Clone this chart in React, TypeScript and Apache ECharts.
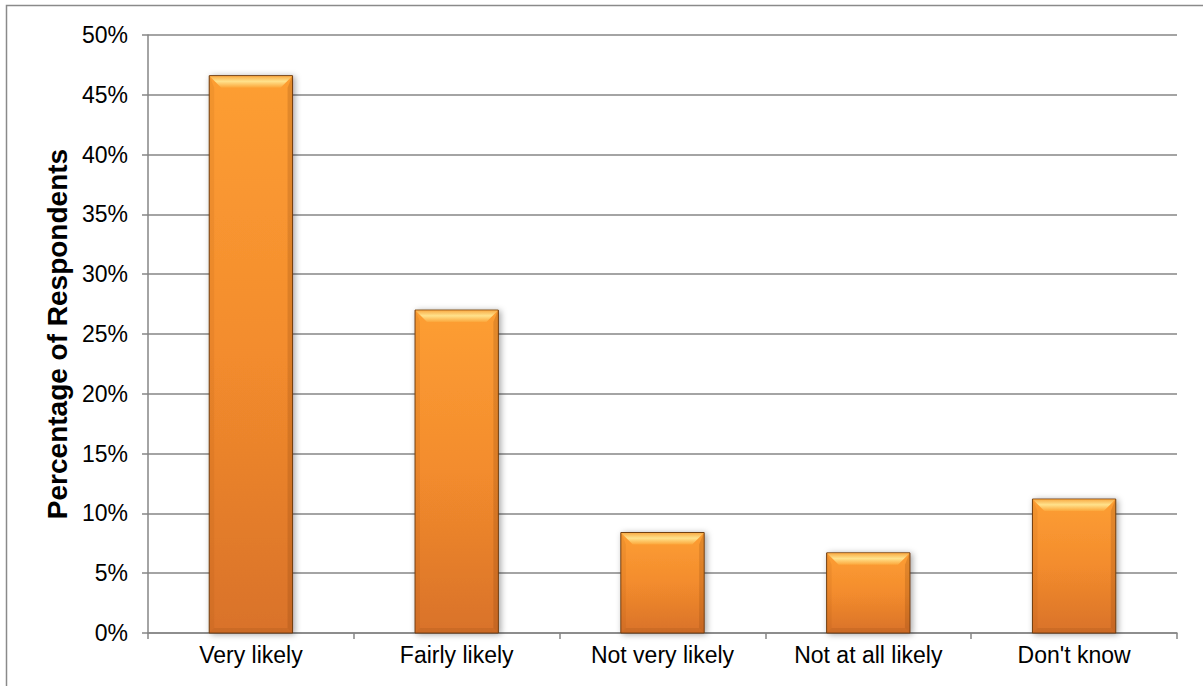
import React, { useEffect, useRef } from "react";
import * as echarts from "echarts";

const categories = ["Very likely", "Fairly likely", "Not very likely", "Not at all likely", "Don't know"];
const values = [46.6, 27.0, 8.4, 6.7, 11.2];
const yTicks = { min: 0, max: 50, interval: 5 };
const yAxisTitle = "Percentage of Respondents";

export default function App() {
  const ref = useRef<HTMLDivElement>(null);
  useEffect(() => {
    document.body.style.margin = "0";
    const chart = echarts.init(ref.current!, null, { renderer: "svg" });
    const font = "'Liberation Sans', Arial, sans-serif";
    chart.setOption({
      animation: false,
      backgroundColor: "#ffffff",
      graphic: [
        {
          type: "rect",
          shape: { x: 6.5, y: 5.5, width: 1200, height: 700 },
          style: { fill: "none", stroke: "#8a8a8a", lineWidth: 1.5 },
          silent: true,
          z: -1,
        },
      ],
      grid: { left: 148, right: 26, top: 35, bottom: 53 },
      xAxis: {
        type: "category",
        data: categories,
        boundaryGap: true,
        axisLine: { show: true, lineStyle: { color: "#868686", width: 1.5 } },
        axisTick: { show: true, length: 6, alignWithLabel: false, lineStyle: { color: "#868686", width: 1.5 } },
        axisLabel: { color: "#000", fontSize: 23, fontFamily: font, margin: 10 },
        splitLine: { show: false },
      },
      yAxis: {
        type: "value",
        min: yTicks.min,
        max: yTicks.max,
        interval: yTicks.interval,
        name: yAxisTitle,
        nameLocation: "middle",
        nameGap: 71,
        nameRotate: 90,
        nameTextStyle: { color: "#000", fontSize: 28, fontWeight: "bold", fontFamily: font },
        axisLine: { show: true, lineStyle: { color: "#868686", width: 1.5 } },
        axisTick: { show: true, length: 6, lineStyle: { color: "#868686", width: 1.5 } },
        axisLabel: { color: "#000", fontSize: 23, fontFamily: font, margin: 20, formatter: "{value}%" },
        splitLine: { show: true, lineStyle: { color: "#868686", width: 1.5 } },
      },
      series: [
        {
          type: "custom",
          data: values.map((v, i) => [i, v]),
          encode: { x: 0, y: 1 },
          renderItem: (params: any, api: any) => {
            const xi = api.value(0);
            const v = api.value(1);
            const top = api.coord([xi, v]);
            const bot = api.coord([xi, 0]);
            const bw = api.size([1, 0])[0] * 0.405;
            const left = top[0] - bw / 2;
            const right = left + bw;
            const t = top[1];
            const b = bot[1];
            const h = b - t;
            const bev = Math.min(12, h / 3);
            const sb = 5;
            return {
              type: "group",
              children: [
                {
                  type: "rect",
                  shape: { x: left, y: t, width: bw, height: h },
                  style: {
                    fill: new echarts.graphic.LinearGradient(0, 0, 0, 1, [
                      { offset: 0, color: "#FD9E33" },
                      { offset: 0.5, color: "#F38C2D" },
                      { offset: 1, color: "#D9722A" },
                    ]),
                    stroke: "#6e3c10",
                    lineWidth: 1,
                    shadowBlur: 6,
                    shadowColor: "rgba(0,0,0,0.35)",
                    shadowOffsetX: 2,
                    shadowOffsetY: 1,
                  },
                },
                {
                  type: "polygon",
                  shape: {
                    points: [
                      [left + 0.5, t + 0.5],
                      [right - 0.5, t + 0.5],
                      [right - bev, t + bev],
                      [left + bev, t + bev],
                    ],
                  },
                  style: {
                    fill: new echarts.graphic.LinearGradient(0, 0, 0, 1, [
                      { offset: 0, color: "#F9AE48" },
                      { offset: 0.45, color: "#FFE28C" },
                      { offset: 1, color: "#FCA63A" },
                    ]),
                  },
                },
                {
                  type: "polygon",
                  shape: {
                    points: [
                      [left + 0.5, t + 0.5],
                      [left + sb, t + bev],
                      [left + sb, b - sb],
                      [left + 0.5, b - 0.5],
                    ],
                  },
                  style: { fill: "rgba(150,70,10,0.10)" },
                },
                {
                  type: "polygon",
                  shape: {
                    points: [
                      [right - 0.5, t + 0.5],
                      [right - sb, t + bev],
                      [right - sb, b - sb],
                      [right - 0.5, b - 0.5],
                    ],
                  },
                  style: { fill: "rgba(110,50,5,0.18)" },
                },
                {
                  type: "polygon",
                  shape: {
                    points: [
                      [left + 0.5, b - 0.5],
                      [left + sb, b - sb],
                      [right - sb, b - sb],
                      [right - 0.5, b - 0.5],
                    ],
                  },
                  style: { fill: "rgba(110,50,5,0.12)" },
                },
              ],
            };
          },
        },
      ],
    });
    return () => chart.dispose();
  }, []);
  return <div ref={ref} style={{ width: 1203, height: 686 }} />;
}
